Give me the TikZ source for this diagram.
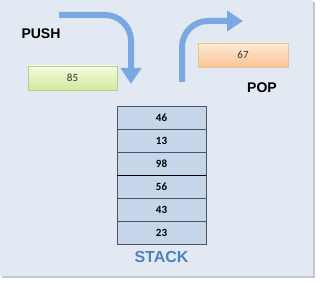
\documentclass[tikz,border=0pt]{standalone}
\usepackage{fontspec}
\setmainfont{Liberation Sans}
\newfontfamily\numfont{Carlito}
\usetikzlibrary{arrows.meta,positioning}
\definecolor{panelbg}{RGB}{226,233,243}
\definecolor{panelshadow}{RGB}{196,198,210}
\definecolor{arrowblue}{RGB}{122,168,226}
\definecolor{greentop}{RGB}{244,251,224}
\definecolor{greenbottom}{RGB}{210,234,160}
\definecolor{greenline}{RGB}{180,208,128}
\definecolor{orangetop}{RGB}{254,234,214}
\definecolor{orangebottom}{RGB}{250,196,150}
\definecolor{orangeline}{RGB}{236,190,150}
\definecolor{cellblue}{RGB}{197,214,234}
\definecolor{cellline}{RGB}{80,82,92}
\definecolor{stackblue}{RGB}{79,129,189}
\tikzset{
    label/.style={font=\fontsize{14}{16}\selectfont\bfseries, text=black},
    pushbox/.style={rectangle, minimum width=89pt, minimum height=24pt, draw=greenline, top color=greentop, bottom color=greenbottom, font=\numfont\fontsize{11}{13}\selectfont, text=black!80},
    popbox/.style={rectangle, minimum width=90pt, minimum height=24pt, draw=orangeline, top color=orangetop, bottom color=orangebottom, font=\numfont\fontsize{11}{13}\selectfont, text=black!80},
    cell/.style={rectangle, minimum width=89pt, minimum height=23pt, outer sep=0pt, draw=cellline, fill=cellblue, font=\numfont\bfseries\fontsize{11}{13}\selectfont},
    bluearrow/.style={line width=6pt, draw=arrowblue, rounded corners=26pt, -{Triangle[width=20pt,length=16pt]}}
}
\begin{document}
\begin{tikzpicture}[x=1pt,y=-1pt]

% Page and panel
\useasboundingbox (0,0) rectangle (320,283);
\fill[white] (0,0) rectangle (320,283);
\fill[panelshadow] (2,2) rectangle (315,278);
\fill[panelbg] (0,0) rectangle (313,276);

% Push side
\node[label] (push) at (41,34) {PUSH};
\node[pushbox] (pushval) at (72.5,78) {85};

% Pop side
\node[label] (pop) at (262,88) {POP};
\node[popbox] (popval) at (243,55) {67};

% Stack
\node[cell] (cell1) at (161.5,117.5) {46};
\node[cell, below=0pt of cell1] (cell2) {13};
\node[cell, below=0pt of cell2] (cell3) {98};
\node[cell, below=0pt of cell3] (cell4) {56};
\node[cell, below=0pt of cell4] (cell5) {43};
\node[cell, below=0pt of cell5] (cell6) {23};
\draw[black, line width=1pt] (cell3.south west) -- (cell3.south east);

\node[font=\fontsize{16}{18}\selectfont\bfseries, text=stackblue, below=4pt of cell6] (stacklabel) {STACK};

% Curved arrows
\coordinate (pushstart) at (59,15);
\coordinate (pushend) at (131,84);
\coordinate (popstart) at (182,82);
\coordinate (popend) at (243,21);
\draw[bluearrow] (pushstart) -| (pushend);
\draw[bluearrow] (popstart) |- (popend);

\end{tikzpicture}
\end{document}
